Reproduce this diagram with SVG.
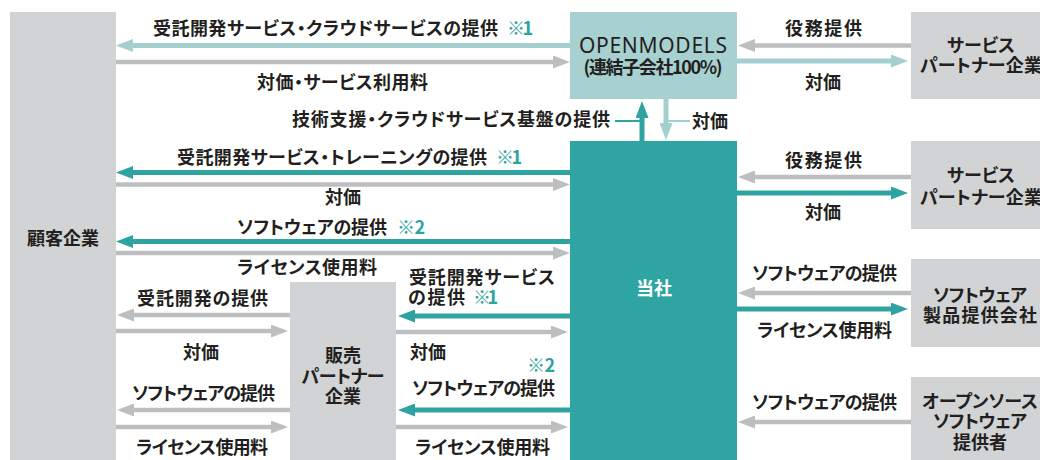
<svg xmlns="http://www.w3.org/2000/svg" width="1040" height="460" viewBox="0 0 1040 460">
<defs>
<style>
.t{font-family:"Noto Sans CJK JP","Noto Sans",sans-serif;font-size:18px;font-weight:700;fill:#231f20;font-feature-settings:"palt"}
.c{text-anchor:middle}
.w{fill:#ffffff}
.n{fill:#2ea3a1}
.bg{fill:#d1d3d4}
.lt{stroke:#a3d0cf;stroke-width:5;fill:none}
.dt{stroke:#2ea3a1;stroke-width:5;fill:none}
.gy{stroke:#bcbec0;stroke-width:4.5;fill:none}
</style>
<marker id="mLt" markerUnits="userSpaceOnUse" markerWidth="17" markerHeight="13" refX="0" refY="6.5" orient="auto"><path d="M0,0 L17,6.5 L0,13 Z" fill="#a3d0cf"/></marker>
<marker id="mDt" markerUnits="userSpaceOnUse" markerWidth="17" markerHeight="13" refX="0" refY="6.5" orient="auto"><path d="M0,0 L17,6.5 L0,13 Z" fill="#2ea3a1"/></marker>
<marker id="mGy" markerUnits="userSpaceOnUse" markerWidth="17" markerHeight="13" refX="0" refY="6.5" orient="auto"><path d="M0,0 L17,6.5 L0,13 Z" fill="#bcbec0"/></marker>
</defs>
<rect width="1040" height="460" fill="#ffffff"/>

<g id="customer">
<rect class="bg" x="10" y="12" width="106" height="460"/>
<text class="t c" x="63" y="244.5">顧客企業</text>
</g>
<g id="openmodels">
<rect x="570" y="12" width="167" height="87" fill="#a6d1d0"/>
<text x="653" y="53" text-anchor="middle" font-family="'Noto Sans',sans-serif" font-size="21" fill="#231f20" textLength="148">OPENMODELS</text>
<text class="t c" x="653" y="74" font-size="15" textLength="139">(連結子会社100%)</text>
</g>
<g id="company">
<rect x="570" y="141" width="167" height="320" fill="#2ea4a3"/>
<text class="t c w" x="654" y="294.5">当社</text>
</g>
<g id="sales-partner">
<rect class="bg" x="290" y="282" width="106" height="190"/>
<text class="t c" x="343" y="361.5">販売</text>
<text class="t c" x="343" y="382.5" textLength="83">パートナー</text>
<text class="t c" x="343" y="402.5">企業</text>
</g>
<g id="service-partner-1">
<rect class="bg" x="911" y="12" width="140" height="87"/>
<text class="t c" x="981" y="51.5" textLength="68">サービス</text>
<text class="t c" x="981" y="71.5" textLength="122">パートナー企業</text>
</g>
<g id="service-partner-2">
<rect class="bg" x="911" y="141" width="140" height="88"/>
<text class="t c" x="981" y="181.5" textLength="68">サービス</text>
<text class="t c" x="981" y="203.5" textLength="122">パートナー企業</text>
</g>
<g id="software-vendor">
<rect class="bg" x="911" y="259" width="140" height="88"/>
<text class="t c" x="980" y="301.5" textLength="94">ソフトウェア</text>
<text class="t c" x="980" y="321.5" textLength="114">製品提供会社</text>
</g>
<g id="oss-provider">
<rect class="bg" x="911" y="377" width="140" height="90"/>
<text class="t c" x="980" y="407.5" textLength="116">オープンソース</text>
<text class="t c" x="980" y="427.5" textLength="94">ソフトウェア</text>
<text class="t c" x="980" y="448.5">提供者</text>
</g>

<g id="connectors">
<line class="lt" x1="570" y1="45.5" x2="133" y2="45.5" marker-end="url(#mLt)"/>
<line class="gy" x1="116" y1="62" x2="553" y2="62" marker-end="url(#mGy)"/>
<line class="gy" x1="911" y1="45.5" x2="755" y2="45.5" marker-end="url(#mGy)"/>
<line class="lt" x1="737" y1="61" x2="891" y2="61" marker-end="url(#mLt)"/>
<line class="dt" x1="642" y1="141" x2="642" y2="118" marker-end="url(#mDt)"/>
<line class="lt" x1="666" y1="99" x2="666" y2="123" marker-end="url(#mLt)"/>
<line x1="615" y1="121" x2="640" y2="121" stroke="#2ea3a1" stroke-width="2"/>
<line x1="668" y1="121" x2="690" y2="121" stroke="#a3d0cf" stroke-width="2"/>
<line class="dt" x1="570" y1="172.5" x2="133" y2="172.5" marker-end="url(#mDt)"/>
<line class="gy" x1="116" y1="184.5" x2="553" y2="184.5" marker-end="url(#mGy)"/>
<line class="gy" x1="911" y1="177" x2="755" y2="177" marker-end="url(#mGy)"/>
<line class="dt" x1="737" y1="193" x2="891" y2="193" marker-end="url(#mDt)"/>
<line class="dt" x1="570" y1="241.5" x2="133" y2="241.5" marker-end="url(#mDt)"/>
<line class="gy" x1="116" y1="253" x2="553" y2="253" marker-end="url(#mGy)"/>
<line class="gy" x1="290" y1="315" x2="134" y2="315" marker-end="url(#mGy)"/>
<line class="gy" x1="116" y1="331" x2="271" y2="331" marker-end="url(#mGy)"/>
<line class="gy" x1="290" y1="410" x2="134" y2="410" marker-end="url(#mGy)"/>
<line class="gy" x1="116" y1="427" x2="271" y2="427" marker-end="url(#mGy)"/>
<line class="dt" x1="570" y1="316" x2="415" y2="316" marker-end="url(#mDt)"/>
<line class="gy" x1="396" y1="332" x2="551" y2="332" marker-end="url(#mGy)"/>
<line class="dt" x1="570" y1="410" x2="415" y2="410" marker-end="url(#mDt)"/>
<line class="gy" x1="396" y1="427" x2="551" y2="427" marker-end="url(#mGy)"/>
<line class="gy" x1="911" y1="293" x2="755" y2="293" marker-end="url(#mGy)"/>
<line class="dt" x1="737" y1="309" x2="891" y2="309" marker-end="url(#mDt)"/>
<line class="gy" x1="911" y1="422" x2="755" y2="422" marker-end="url(#mGy)"/>
</g>

<g id="labels">
<text class="t" x="153" y="34.5" textLength="345">受託開発サービス・クラウドサービスの提供</text>
<text class="t n" x="507" y="34.5" textLength="26">※1</text>
<text class="t" x="257" y="88.5" textLength="171">対価・サービス利用料</text>
<text class="t" x="292" y="125.5" textLength="318">技術支援・クラウドサービス基盤の提供</text>
<text class="t" x="692" y="127.5">対価</text>
<text class="t" x="785" y="34.5" textLength="77">役務提供</text>
<text class="t" x="805" y="88.5">対価</text>
<text class="t" x="177" y="163.5" textLength="310">受託開発サービス・トレーニングの提供</text>
<text class="t n" x="496" y="163.5" textLength="26">※1</text>
<text class="t" x="785" y="166.5" textLength="77">役務提供</text>
<text class="t" x="805" y="218.5">対価</text>
<text class="t" x="325" y="203.5">対価</text>
<text class="t" x="237" y="233.5" textLength="150">ソフトウェアの提供</text>
<text class="t n" x="397" y="233.5" textLength="28">※2</text>
<text class="t" x="237" y="273.5" textLength="140">ライセンス使用料</text>
<text class="t" x="409" y="283.5" textLength="146">受託開発サービス</text>
<text class="t" x="408" y="303.5" textLength="57">の提供</text>
<text class="t n" x="473" y="303.5" textLength="25">※1</text>
<text class="t" x="137" y="304.5" textLength="131">受託開発の提供</text>
<text class="t" x="183" y="358.5">対価</text>
<text class="t" x="410" y="358.5">対価</text>
<text class="t n" x="527" y="371.5" textLength="28">※2</text>
<text class="t" x="412" y="394.5" textLength="143">ソフトウェアの提供</text>
<text class="t" x="132" y="399.5" textLength="143">ソフトウェアの提供</text>
<text class="t" x="136" y="453.5" textLength="132">ライセンス使用料</text>
<text class="t" x="415" y="453.5" textLength="135">ライセンス使用料</text>
<text class="t" x="752" y="279.5" textLength="145">ソフトウェアの提供</text>
<text class="t" x="757" y="336.5" textLength="135">ライセンス使用料</text>
<text class="t" x="752" y="408.5" textLength="145">ソフトウェアの提供</text>
</g>
</svg>
